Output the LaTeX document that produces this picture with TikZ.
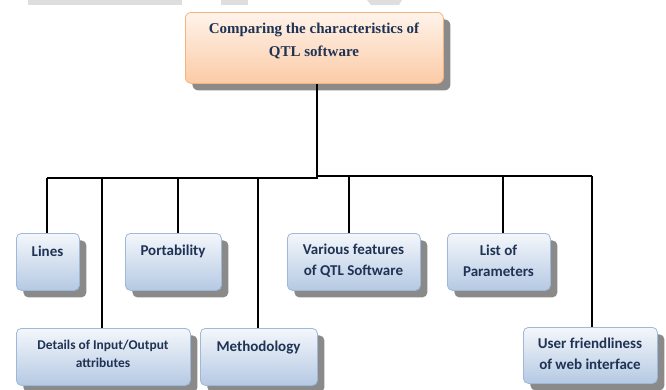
\documentclass[tikz,border=0pt]{standalone}
\usepackage{fontspec}
\setmainfont{Liberation Serif}
\newfontfamily\boxfont{Carlito}
\usetikzlibrary{shadows}
\definecolor{navy}{HTML}{1F3354}
\definecolor{bluetop}{HTML}{F4F7FB}
\definecolor{bluebot}{HTML}{B5C9E3}
\definecolor{blueline}{HTML}{9DB8D9}
\definecolor{peachtop}{HTML}{FFF3EA}
\definecolor{peachbot}{HTML}{FBCBA6}
\definecolor{peachline}{HTML}{F7B37F}
\definecolor{shadowgray}{HTML}{8A8A8A}
\definecolor{wm}{HTML}{DEDEDE}
\tikzset{
  x=1pt, y=-1pt,
  bluebox/.style={draw=blueline, line width=0.8pt, rounded corners=5pt,
    top color=bluetop, bottom color=bluebot, inner sep=0pt,
    general shadow={fill=shadowgray, shadow xshift=7pt, shadow yshift=-7pt}},
  peachbox/.style={draw=peachline, line width=0.8pt, rounded corners=6pt,
    top color=peachtop, bottom color=peachbot, inner sep=0pt,
    general shadow={fill=shadowgray, shadow xshift=7pt, shadow yshift=-7pt}},
  sanstxt/.style={text=navy, align=center, inner sep=0pt,
    font=\boxfont\bfseries\fontsize{15}{21}\selectfont},
  smalltxt/.style={text=navy, align=center, inner sep=0pt,
    font=\boxfont\bfseries\fontsize{13.4}{18}\selectfont},
  seriftxt/.style={text=navy, align=center, inner sep=0pt,
    font=\bfseries\fontsize{15}{23}\selectfont},
  conn/.style={draw=black, line width=1.2pt},
}
\newcommand{\boxat}[6]{% style, name, x1, y1, x2, y2
  \node[#1, anchor=north west, minimum width=#5-#3, minimum height=#6-#4] (#2) at (#3,#4) {};}
\begin{document}
\begin{tikzpicture}
\useasboundingbox (0,0) rectangle (666,389);
% faint watermark bars at the top edge
\fill[wm] (28,0) rectangle (182,5);
\fill[wm] (221,0) rectangle (248,5);
\fill[wm] (367,0) -- (402,0) -- (399,5) -- (371,5) -- cycle;

\coordinate (busL) at (47,178);
\coordinate (busM) at (317,178);
\coordinate (busMr) at (317,176);
\coordinate (busR) at (592,176);

% boxes
\boxat{peachbox}{top}{185}{12}{443}{83}
\boxat{bluebox}{lines}{16}{233}{79}{290}
\boxat{bluebox}{port}{125}{233}{221}{290}
\boxat{bluebox}{various}{287}{233}{420}{290}
\boxat{bluebox}{list}{447}{233}{550}{290}
\boxat{bluebox}{details}{16}{328}{190}{385}
\boxat{bluebox}{method}{200}{328}{317}{385}
\boxat{bluebox}{user}{523}{327}{657}{383}

% texts
\node[seriftxt] (topT) at (314,40.5) {Comparing the characteristics of\\QTL software};
\node[sanstxt] (linesT) at (47.5,251) {Lines};
\node[sanstxt] (portT) at (173,251) {Portability};
\node[sanstxt] (variousT) at (353.5,260.5) {Various features\\of QTL Software};
\node[sanstxt] (listT) at (498.5,260.5) {List of\\Parameters};
\node[smalltxt] (detailsT) at (103,354) {Details of Input/Output\\attributes};
\node[sanstxt] (methodT) at (258.5,347) {Methodology};
\node[sanstxt] (userT) at (590,353.5) {User friendliness\\of web interface};

% connector lines
\draw[conn] (top.south -| busM) -- (busM);
\draw[conn] (busL) -- (busM) -- (busMr) -- (busR);
\draw[conn] (busL) -- (lines.north -| busL);
\draw[conn] (102,178) -- (details.north -| 102,0);
\draw[conn] (178,178) -- (port.north -| 178,0);
\draw[conn] (258,178) -- (method.north -| 258,0);
\draw[conn] (349,176) -- (various.north -| 349,0);
\draw[conn] (503,176) -- (list.north -| 503,0);
\draw[conn] (busR) -- (user.north -| busR);
\end{tikzpicture}
\end{document}
